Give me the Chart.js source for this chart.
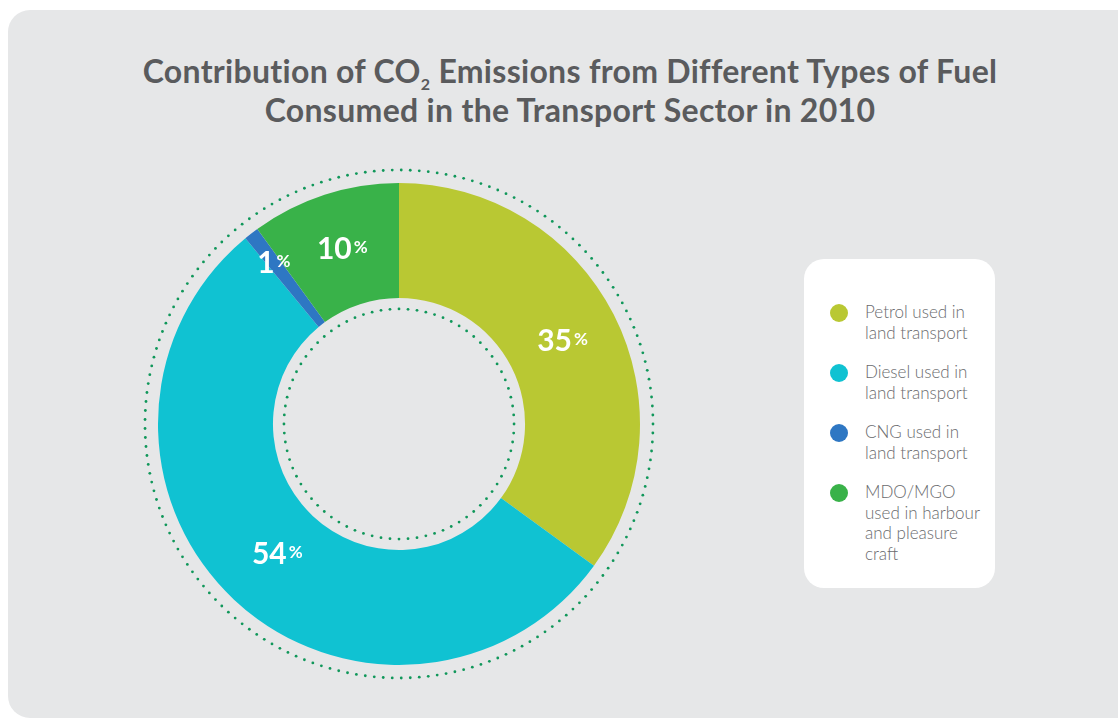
<!DOCTYPE html>
<html>
<head>
<meta charset="utf-8">
<script src="https://cdn.jsdelivr.net/npm/chart.js@4"></script>
<style>
  html, body { margin: 0; padding: 0; background: #ffffff; width: 1118px; height: 719px; overflow: hidden; }
  .panel { position: absolute; left: 8px; top: 10px; width: 1140px; height: 708px; background: #e6e7e8; border-radius: 22px; }
  .title { position: absolute; left: 0; width: 1140px; top: 51px; text-align: center; font-family: Lato, "Open Sans", sans-serif; font-weight: 700; font-size: 32px; line-height: 39px; color: #5a5b5d; letter-spacing: 0.3px; }
  .title sub { font-size: 16px; vertical-align: -7px; line-height: 0; }
  .chart-box { position: absolute; left: 138px; top: 163px; width: 522px; height: 522px; }
  .legend { position: absolute; left: 804px; top: 259px; width: 191px; height: 329px; background: #ffffff; border-radius: 20px; box-sizing: border-box; padding: 43px 0 0 26px; font-family: Lato, "Open Sans", sans-serif; font-weight: 300; font-size: 17px; line-height: 20.5px; color: #6a6b6e; }
  .legend .item { position: relative; padding-left: 35px; margin-bottom: 19px; }
  .legend .dot { position: absolute; left: 0; top: 2px; width: 18px; height: 18px; border-radius: 50%; }
</style>
</head>
<body>
<div class="panel"></div>
<div class="title">Contribution of CO<sub>2</sub> Emissions from Different Types of Fuel<br>Consumed in the Transport Sector in 2010</div>
<div class="chart-box"><canvas id="donut" width="522" height="522"></canvas></div>
<div class="legend" id="legend"></div>
<script>
// Fuel types and their share of transport-sector CO2 emissions (%)
const fuelLabels = [
  ['Petrol used in', 'land transport'],
  ['Diesel used in', 'land transport'],
  ['CNG used in', 'land transport'],
  ['MDO/MGO', 'used in harbour', 'and pleasure', 'craft']
];
const shareValues = [35, 54, 1, 10];
const fuelColors = ['#b9c833', '#10c2d2', '#2e77c3', '#39b249'];
// radial position of each percentage label, as a fraction of the ring
const labelRadiusFactor = [0.5, 0.45, 0.68, 0.5];

// Dotted guide circles just outside and just inside the ring
const dottedRings = {
  id: 'dottedRings',
  beforeDatasetsDraw(chart) {
    const arc = chart.getDatasetMeta(0).data[0];
    if (!arc) return;
    const ctx = chart.ctx;
    const drawDots = (r) => {
      const n = Math.round(2 * Math.PI * r / 9);
      ctx.fillStyle = '#10975a';
      for (let i = 0; i < n; i++) {
        const a = i / n * Math.PI * 2;
        ctx.beginPath();
        ctx.arc(arc.x + r * Math.cos(a), arc.y + r * Math.sin(a), 1.4, 0, Math.PI * 2);
        ctx.fill();
      }
    };
    ctx.save();
    drawDots(arc.outerRadius + 13);
    drawDots(arc.innerRadius - 11);
    ctx.restore();
  }
};

// White percentage labels inside each segment
const percentLabels = {
  id: 'percentLabels',
  afterDatasetsDraw(chart) {
    const ctx = chart.ctx;
    const meta = chart.getDatasetMeta(0);
    const bigFont = '700 30px Lato, "Open Sans", sans-serif';
    const smallFont = '700 17px Lato, "Open Sans", sans-serif';
    ctx.save();
    ctx.fillStyle = '#ffffff';
    ctx.textBaseline = 'alphabetic';
    meta.data.forEach((arc, i) => {
      const mid = (arc.startAngle + arc.endAngle) / 2;
      const r = arc.innerRadius + (arc.outerRadius - arc.innerRadius) * labelRadiusFactor[i];
      const cx = arc.x + r * Math.cos(mid);
      const cy = arc.y + r * Math.sin(mid);
      const num = String(shareValues[i]);
      ctx.font = bigFont;
      const wNum = ctx.measureText(num).width;
      ctx.font = smallFont;
      const wPct = ctx.measureText('%').width;
      const x0 = cx - (wNum + 2 + wPct) / 2;
      const base = cy + 10;
      ctx.font = bigFont;
      ctx.fillText(num, x0, base);
      ctx.font = smallFont;
      ctx.fillText('%', x0 + wNum + 2, base - 6);
    });
    ctx.restore();
  }
};

new Chart(document.getElementById('donut'), {
  type: 'doughnut',
  data: {
    labels: fuelLabels.map(l => l.join(' ')),
    datasets: [{
      data: shareValues,
      backgroundColor: fuelColors,
      borderWidth: 0,
      hoverOffset: 0
    }]
  },
  options: {
    responsive: false,
    animation: false,
    cutout: '52.3%',
    layout: { padding: 20 },
    plugins: {
      legend: { display: false },
      tooltip: { enabled: false },
      title: { display: false }
    }
  },
  plugins: [dottedRings, percentLabels]
});

// Legend built from the same label and colour arrays
const legendEl = document.getElementById('legend');
fuelLabels.forEach((lines, i) => {
  const item = document.createElement('div');
  item.className = 'item';
  const dot = document.createElement('span');
  dot.className = 'dot';
  dot.style.background = fuelColors[i];
  item.appendChild(dot);
  lines.forEach((t, k) => {
    if (k) item.appendChild(document.createElement('br'));
    item.appendChild(document.createTextNode(t));
  });
  legendEl.appendChild(item);
});
</script>
</body>
</html>
